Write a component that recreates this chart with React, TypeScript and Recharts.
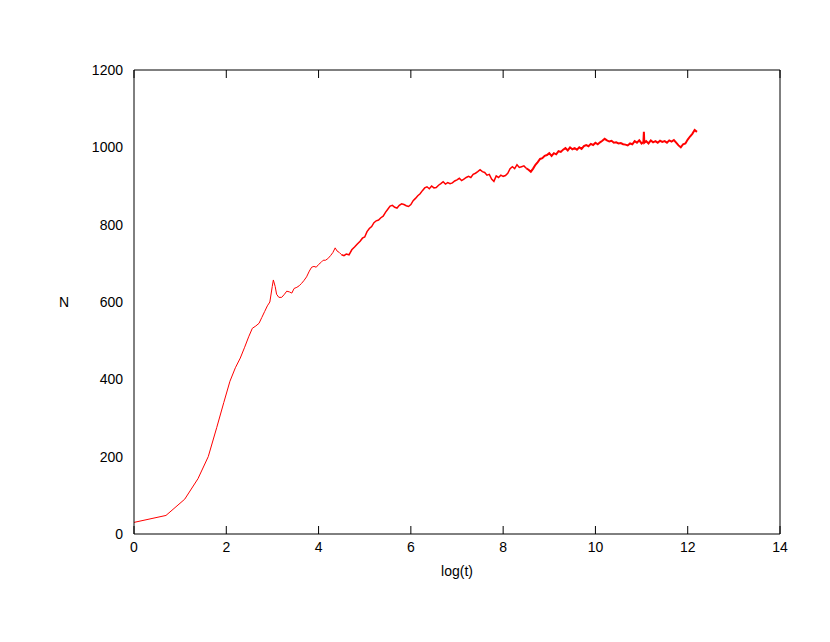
import { LineChart, Line, XAxis, YAxis } from "recharts";

// log(t) values and population N
const logT = [
  0, 0.693, 1.099, 1.386, 1.609, 1.792, 1.946, 2.079, 2.197, 2.303, 2.398, 2.485,
  2.565, 2.64, 2.71, 2.77, 2.83, 2.89, 2.944, 2.996, 3.02, 3.06, 3.09, 3.14,
  3.2, 3.26, 3.31, 3.37, 3.42, 3.47, 3.53, 3.58, 3.63, 3.68, 3.74, 3.8,
  3.85, 3.9, 3.95, 4.0, 4.05, 4.1, 4.15, 4.2, 4.26, 4.31, 4.36, 4.4,
  4.45, 4.5, 4.55, 4.6, 4.66, 4.72, 4.78, 4.84, 4.9, 4.95, 5.0, 5.05,
  5.1, 5.15, 5.2, 5.25, 5.3, 5.35, 5.4, 5.45, 5.5, 5.55, 5.6, 5.65,
  5.7, 5.75, 5.8, 5.85, 5.9, 5.95, 6.0, 6.05, 6.1, 6.15, 6.2, 6.25,
  6.3, 6.35, 6.4, 6.45, 6.5, 6.55, 6.6, 6.65, 6.7, 6.75, 6.8, 6.85,
  6.9, 6.95, 7.0, 7.05, 7.1, 7.15, 7.2, 7.25, 7.3, 7.35, 7.4, 7.45,
  7.5, 7.55, 7.6, 7.65, 7.7, 7.75, 7.8, 7.85, 7.9, 7.95, 8.0, 8.05,
  8.1, 8.15, 8.2, 8.25, 8.3, 8.35, 8.4, 8.45, 8.5, 8.55, 8.6, 8.65,
  8.7, 8.75, 8.8, 8.85, 8.9, 8.95, 9.0, 9.05, 9.1, 9.15, 9.2, 9.25,
  9.3, 9.35, 9.4, 9.45, 9.5, 9.55, 9.6, 9.65, 9.7, 9.75, 9.8, 9.85,
  9.9, 9.95, 10.0, 10.05, 10.1, 10.15, 10.2, 10.25, 10.3, 10.35, 10.4, 10.45,
  10.5, 10.55, 10.6, 10.65, 10.7, 10.75, 10.8, 10.85, 10.9, 10.95, 11.0, 11.04,
  11.05, 11.06, 11.1, 11.15, 11.2, 11.25, 11.3, 11.35, 11.4, 11.45, 11.5, 11.55,
  11.6, 11.65, 11.7, 11.75, 11.8, 11.85, 11.9, 11.95, 12.0, 12.05, 12.1, 12.15,
  12.2,
];

const counts = [
  30, 48, 90, 143, 200, 275, 340, 395, 430, 455, 483, 510,
  532, 538, 545, 560, 575, 590, 600, 640, 657, 640, 620, 612,
  612, 620, 628, 626, 623, 635, 638, 642, 648, 655, 665, 680,
  690, 692, 690, 697, 702, 708, 708, 712, 720, 728, 740, 732,
  728, 722, 720, 724, 722, 735, 742, 750, 757, 765, 768, 782,
  790, 795, 805, 810, 812, 818, 822, 832, 840, 848, 850, 845,
  843, 850, 854, 852, 849, 847, 852, 862, 868, 875, 880, 888,
  895, 898, 893, 900, 895, 896, 902, 906, 911, 905, 909, 906,
  908, 913, 916, 920, 914, 918, 922, 925, 922, 930, 933, 937,
  942, 937, 935, 928, 930, 918, 912, 926, 922, 928, 925, 927,
  933, 945, 950, 945, 955, 948, 950, 952, 946, 942, 937, 945,
  955, 962, 970, 972, 978, 980, 985, 978, 985, 982, 990, 988,
  994, 998, 992, 1000, 995, 998, 994, 1000, 996, 1003, 1006, 1003,
  1009, 1006, 1012, 1008, 1013, 1017, 1022, 1018, 1015, 1017, 1012, 1013,
  1010, 1011, 1008, 1007, 1005, 1010, 1008, 1016, 1012, 1018, 1010, 1014,
  1040, 1012, 1016, 1010, 1018, 1013, 1016, 1012, 1017, 1014, 1016, 1012,
  1018, 1015, 1019, 1012, 1005, 1000, 1008, 1010, 1020, 1028, 1035, 1045,
  1040,
];

const xTicks = [0, 2, 4, 6, 8, 10, 12, 14];
const yTicks = [0, 200, 400, 600, 800, 1000, 1200];

// the trace gets denser (visually thicker) as log(t) grows
const sparseEnd = 4.5;
const denseStart = 8.5;

const data = logT.map((x, i) => ({
  x,
  early: x <= sparseEnd ? counts[i] : null,
  mid: x >= sparseEnd && x <= denseStart ? counts[i] : null,
  late: x >= denseStart ? counts[i] : null,
}));

const font = "'Liberation Sans', Arial, sans-serif";
const tickStyle = { fill: "#000", fontSize: 14, fontFamily: font };
const noLabel = () => <g />;
const black = { stroke: "#000" };

export default function App() {
  return (
    <div style={{ position: "absolute", left: 0, top: 0, width: 830, height: 642, background: "#fff" }}>
      <LineChart
        width={830}
        height={642}
        data={data}
        margin={{ top: 70, right: 50, bottom: 78, left: 74 }}
      >
        <XAxis
          dataKey="x"
          type="number"
          domain={[0, 14]}
          ticks={xTicks}
          height={30}
          tickSize={0}
          tickMargin={8}
          tick={tickStyle}
          stroke="#000"
          tickLine={false}
          label={{ value: "log(t)", position: "bottom", offset: 2, fill: "#000", fontSize: 14, fontFamily: font }}
        />
        <XAxis
          xAxisId="bIn"
          orientation="bottom"
          mirror
          dataKey="x"
          type="number"
          domain={[0, 14]}
          ticks={xTicks}
          height={1}
          tickSize={8}
          tick={noLabel}
          axisLine={false}
          tickLine={black}
        />
        <XAxis
          xAxisId="top"
          orientation="top"
          mirror
          dataKey="x"
          type="number"
          domain={[0, 14]}
          ticks={xTicks}
          height={1}
          tickSize={8}
          tick={noLabel}
          axisLine={black}
          tickLine={black}
        />
        <YAxis
          type="number"
          domain={[0, 1200]}
          ticks={yTicks}
          width={60}
          tickSize={0}
          tickMargin={11}
          tick={tickStyle}
          stroke="#000"
          tickLine={false}
          label={{ value: "N", position: "left", offset: 5, fill: "#000", fontSize: 14, fontFamily: font }}
        />
        <YAxis
          yAxisId="lIn"
          orientation="left"
          mirror
          type="number"
          domain={[0, 1200]}
          ticks={yTicks}
          width={1}
          tickSize={8}
          tick={noLabel}
          axisLine={false}
          tickLine={black}
        />
        <YAxis
          yAxisId="right"
          orientation="right"
          mirror
          type="number"
          domain={[0, 1200]}
          ticks={yTicks}
          width={1}
          tickSize={8}
          tick={noLabel}
          axisLine={black}
          tickLine={black}
        />
        <Line type="linear" dataKey="early" stroke="#ff0000" strokeWidth={1} dot={false} isAnimationActive={false} connectNulls={false} />
        <Line type="linear" dataKey="mid" stroke="#ff0000" strokeWidth={1.5} dot={false} isAnimationActive={false} />
        <Line type="linear" dataKey="late" stroke="#ff0000" strokeWidth={2} dot={false} isAnimationActive={false} />
      </LineChart>
    </div>
  );
}
